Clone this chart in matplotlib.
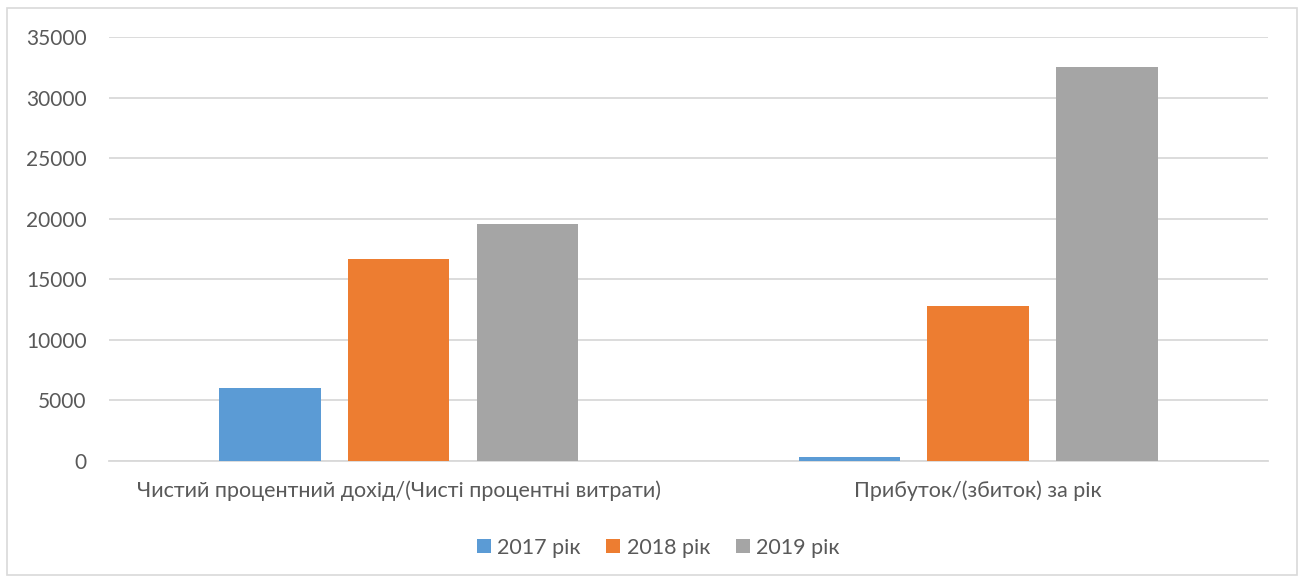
import numpy as np
import matplotlib.pyplot as plt
from matplotlib.patches import Rectangle

categories = ["Чистий процентний дохід/(Чисті процентні витрати)", "Прибуток/(збиток) за рік"]
years = ["2017 рік", "2018 рік", "2019 рік"]
values_2017 = [6050, 300]
values_2018 = [16650, 12800]
values_2019 = [19600, 32550]
colors = ["#5B9BD5", "#ED7D31", "#A5A5A5"]

plt.rcParams["font.family"] = ["Lato", "DejaVu Sans"]
TEXT = "#595959"
GRID = "#d9d9d9"


def main():
    fig = plt.figure(figsize=(13.01, 5.78), dpi=100)
    ax = fig.add_axes([0.0836, 0.2029, 0.8910, 0.7327])

    # chart border
    fig.patches.append(Rectangle((7 / 1301, 3 / 578), 1290 / 1301, 567 / 578,
                                 transform=fig.transFigure, fill=False,
                                 edgecolor=GRID, linewidth=1.2))

    x = np.arange(len(categories))
    width = 0.175
    offset = 0.222
    series = [values_2017, values_2018, values_2019]
    for i, (vals, label, c) in enumerate(zip(series, years, colors)):
        ax.bar(x + (i - 1) * offset, vals, width, color=c, label=label, zorder=3)

    ax.set_xlim(-0.5, 1.5)
    ax.set_ylim(0, 35000)
    ax.set_yticks(np.arange(0, 35001, 5000))
    ax.grid(axis="y", color=GRID, linewidth=1.3, zorder=0)
    for s in ["top", "right", "left"]:
        ax.spines[s].set_visible(False)
    ax.spines["bottom"].set_color(GRID)
    ax.spines["bottom"].set_linewidth(1.3)
    ax.tick_params(axis="both", length=0, labelcolor=TEXT)
    ax.tick_params(axis="y", pad=16, labelsize=15)
    ax.tick_params(axis="x", pad=14, labelsize=15.5)
    ax.set_xticks(x)
    ax.set_xticklabels(categories)

    ax.legend(loc="center", bbox_to_anchor=(0.474, -0.205), ncol=3, frameon=False,
              fontsize=15.5, labelcolor=TEXT, handlelength=0.65, handleheight=0.65,
              handletextpad=0.3, columnspacing=1.2)

    fig.savefig("out.png", dpi=100)
    plt.close(fig)


if __name__ == "__main__":
    main()
